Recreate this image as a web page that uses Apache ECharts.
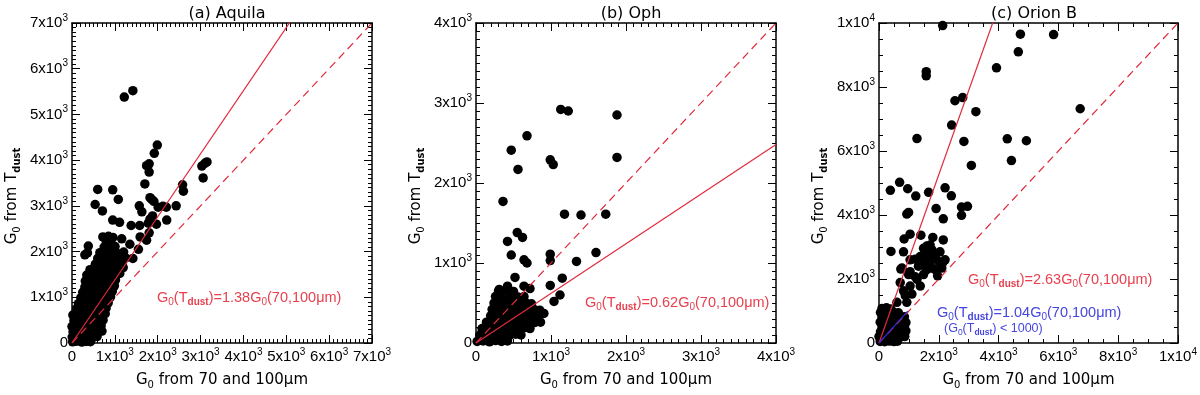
<!DOCTYPE html>
<html>
<head>
<meta charset="utf-8">
<script src="https://cdn.jsdelivr.net/npm/echarts@6/dist/echarts.min.js"></script>
<style>
  html, body { margin: 0; padding: 0; background: #fff; }
  #chartmain { width: 1200px; height: 395px; }
</style>
</head>
<body>
<div id="chartmain"></div>
<script>
// panel titles
var titles = ['(a) Aquila', '(b) Oph', '(c) Orion B'];
// axis ranges (same for x and y) and major tick step
var axisMax = [7000, 4000, 10000];
var axisStep = [1000, 1000, 2000];
var minorSplit = [10, 10, 4];
// fitted slopes G0(Tdust) = k * G0(70,100um)
var fitSlope = [1.38, 0.62, 2.63];
var fitLabel = ['1.38', '0.62', '2.63'];
// Orion B fit for G0(Tdust) < 1000
var blueSlope = 1.04;
var blueEnd = 960;

// G0 from 70/100um (x), G0 from Tdust (y)
var aquilaPts = [
  [1220,5380],[1420,5520],[1990,4330],[1920,4150],[1740,3880],[1800,3920],[1800,3740],[1700,3480],
  [1820,3180],[1860,3140],[1910,3100],[1570,3000],[1630,2870],[1880,2780],[1780,2620],[1970,2600],
  [2120,2990],[2200,2970],[2430,3000],[2210,2690],[2580,3460],[2600,3320],[3030,3870],[3100,3930],
  [3150,3960],[3060,3610],[600,3360],[540,3030],[710,2890],[950,3350],[1080,3140],[950,2690],
  [1110,2640],[1380,2570],[1580,2570],[1590,2320],[1740,2250],[1800,2410],[1350,2160],[1160,2280],
  [1420,1850],[1550,2050],[380,2120],[360,1970],[300,1930],[1160,1930],[1820,2710],[2010,2970],
  [15,25],[110,40],[230,20],[330,35],[430,30],
  [5,130],[95,115],[190,125],[290,110],[400,130],[495,120],[585,140],
  [25,245],[120,230],[215,250],[330,240],[425,225],[515,250],[615,235],[700,260],
  [0,360],[105,370],[200,350],[305,365],[395,345],[505,375],[600,355],[680,380],
  [45,485],[150,470],[255,490],[345,480],[455,470],[550,495],[640,475],[725,500],
  [20,610],[125,590],[215,605],[325,615],[415,595],[525,610],[615,590],[710,620],[775,640],
  [110,750],[195,720],[305,735],[400,710],[505,730],[595,715],[700,740],[795,760],
  [150,860],[255,845],[345,865],[455,840],[545,855],[655,870],[745,850],[845,880],
  [205,985],[300,970],[410,990],[495,965],[605,990],[700,975],[810,1000],[900,1010],
  [250,1110],[355,1095],[445,1115],[560,1100],[650,1120],[755,1095],[845,1115],[940,1130],
  [300,1225],[395,1215],[505,1235],[600,1210],[705,1230],[795,1220],[905,1240],[990,1250],
  [310,1355],[425,1340],[515,1360],[625,1345],[715,1365],[825,1350],[915,1370],[1015,1380],
  [345,1485],[455,1470],[545,1490],[655,1475],[745,1495],[855,1480],[945,1500],[1050,1505],[1115,1520],
  [420,1605],[525,1590],[615,1610],[725,1595],[815,1615],[925,1600],[1005,1620],[1115,1630],[1195,1650],
  [545,1725],[655,1710],[745,1730],[855,1715],[945,1735],[1055,1720],[1175,1760],
  [600,1850],[715,1840],[825,1860],[915,1845],[1005,1865],[1095,1850],[1250,1860],
  [650,1975],[785,1960],[895,1985],[1050,1965],[1205,1990],
  [750,2100],[860,2090],[1005,2110],
  [800,2220],[905,2230],
  [720,2320],[850,2335],[955,2310]
];

var ophPts = [
  [1130,2920],[1230,2900],[1880,2850],[680,2590],[470,2410],[990,2290],[1030,2230],[560,2170],
  [1880,2320],[360,1770],[1180,1610],[1400,1600],[1730,1610],[420,1270],[550,1380],[620,1320],
  [470,1100],[640,1040],[680,1000],[990,1110],[990,1030],[1340,1020],[1600,1130],[1150,810],
  [990,720],[1120,600],[1040,520],
  [15,20],[95,25],[180,15],[260,30],[340,20],[420,25],
  [50,100],[130,95],[210,110],[290,100],[370,105],[450,95],[530,110],[600,100],
  [80,180],[160,185],[240,175],[320,190],[400,180],[480,185],[560,175],[640,190],[720,180],
  [140,260],[220,255],[300,265],[380,255],[460,265],[540,260],[620,255],[700,265],[780,255],[860,260],
  [195,340],[280,335],[360,345],[440,340],[520,335],[600,345],[680,340],[760,335],[840,345],[905,370],
  [215,420],[300,425],[380,415],[460,420],[540,425],[620,415],[700,425],[775,420],[850,410],
  [240,500],[320,495],[400,505],[500,495],[580,500],[660,505],[740,490],
  [260,580],[340,575],[460,585],[560,575],[640,580],
  [300,650],[400,655],[500,645],
  [310,670],[420,710],[520,820],[640,710],[720,680]
];

var orionPts = [
  [2130,9920],[4730,9650],[5840,9640],[4660,9100],[3930,8600],[1580,8480],[1580,8350],[2800,7670],
  [2540,7570],[3240,7230],[2430,6810],[1270,6390],[2840,6300],[4290,6380],[4930,6320],[4430,5700],
  [3090,5550],[6730,7320],
  [930,4030],[990,4080],[1230,4590],[380,4770],[960,4820],[1660,4710],[2210,4850],[2420,4600],
  [1910,4200],[2150,3880],[2760,4250],[2960,4270],[2760,3990],[690,5020],
  [820,2850],[400,2860],[1040,3400],[840,3250],[1400,3370],[1800,3300],[2150,3220],
  [1040,2600],[1210,2620],[1380,2700],[1490,2960],[1600,3030],[1710,3060],[1770,2910],[1600,2750],
  [1710,2550],[1880,2650],[1990,2550],[2040,2850],[1490,2500],[1320,2400],[2210,2600],[2100,2340],
  [1600,2290],[1880,2290],[2130,2510],
  [930,1270],[1040,1780],[1270,1990],[1490,2140],[1770,2340],[1960,2100],[1100,1530],[820,1630],
  [710,1890],[990,2140],[770,2340],[1380,1780],[380,1020],[600,1270],[880,1480],[730,2310],
  [1040,2230],[1210,2070],[1490,2440],[1710,2600],[1880,2700],
  [40,50],[190,40],[350,60],[500,45],[620,55],
  [0,200],[150,210],[300,190],[450,205],[600,195],[750,210],[860,200],
  [50,350],[200,360],[350,340],[500,355],[650,345],[800,360],[900,380],
  [100,500],[250,510],[400,490],[550,505],[700,495],[850,515],
  [40,650],[200,660],[350,640],[500,655],[650,645],[800,660],[900,640],
  [100,800],[250,790],[400,810],[550,795],[700,805],[850,820],
  [50,950],[200,960],[350,940],[500,955],[650,945],
  [100,1080],[250,1100],[400,1060]
];

var allPts = [aquilaPts, ophPts, orionPts];

var FONT = 'Liberation Sans';
var FONT2 = 'DejaVu Sans';
var RED = '#e02a3c';
var RED_TXT = '#e8404f';
var BLUE = '#2a2ad8';
var BLUE_TXT = '#4545e0';

var gridLeft = [72, 476, 879];

function sciLabel(v) {
  if (v === 0) return '{m|0}';
  var e = Math.floor(Math.log10(v) + 1e-9);
  var m = Math.round(v / Math.pow(10, e));
  return '{m|' + m + 'x10}{e|' + e + '}';
}

var tickRich = {
  m: { fontFamily: FONT, fontSize: 15, color: '#000', lineHeight: 20 },
  e: { fontFamily: FONT, fontSize: 10, color: '#000', verticalAlign: 'top' }
};
var nameRich = {
  n: { fontFamily: FONT2, fontSize: 15, color: '#000', lineHeight: 20 },
  s: { fontFamily: FONT2, fontSize: 10, color: '#000', verticalAlign: 'bottom' },
  d: { fontFamily: FONT2, fontSize: 10, fontWeight: 'bold', color: '#000', verticalAlign: 'bottom' }
};

function makeAxis(i, dim, pos, withLabels) {
  var ax = {
    type: 'value',
    gridIndex: i,
    position: pos,
    min: 0,
    max: axisMax[i],
    interval: axisStep[i],
    axisLine: { show: true, onZero: false, lineStyle: { color: '#000', width: 1.5 } },
    axisTick: { show: true, inside: true, length: 8, lineStyle: { color: '#000', width: 1 } },
    minorTick: { show: true, splitNumber: minorSplit[i], length: 4, lineStyle: { color: '#000', width: 1 } },
    splitLine: { show: false },
    minorSplitLine: { show: false },
    axisLabel: { show: false }
  };
  if (withLabels) {
    ax.axisLabel = {
      show: true, margin: 4, hideOverlap: false, showMinLabel: true, showMaxLabel: true,
      formatter: sciLabel, rich: tickRich
    };
    ax.nameLocation = 'middle';
    if (dim === 'x') {
      ax.name = '{n|G}{s|0}{n| from 70 and 100μm}';
      ax.nameGap = 27;
      ax.nameTextStyle = { rich: nameRich };
    } else {
      ax.name = '{n|G}{s|0}{n| from T}{d|dust}';
      ax.nameGap = 50;
      // push the rotated name a little below the grid centre, as in the original
      ax.nameTextStyle = { rich: nameRich, padding: [0, 26, 0, 0] };
    }
  }
  return ax;
}

var grids = [], xAxes = [], yAxes = [], series = [], titleList = [];
for (var i = 0; i < 3; i++) {
  grids.push({ left: gridLeft[i], top: 23, width: 300, height: 327 });
  xAxes.push(makeAxis(i, 'x', 'bottom', true));
  xAxes.push(makeAxis(i, 'x', 'top', false));
  yAxes.push(makeAxis(i, 'y', 'left', true));
  yAxes.push(makeAxis(i, 'y', 'right', false));
  titleList.push({
    text: titles[i], left: gridLeft[i] + 150, top: 1, textAlign: 'center',
    textStyle: { fontFamily: FONT2, fontSize: 16, fontWeight: 'normal', color: '#000' }
  });
  series.push({
    type: 'scatter', xAxisIndex: 2 * i, yAxisIndex: 2 * i,
    data: allPts[i], symbol: 'circle', symbolSize: 9.5,
    itemStyle: { color: '#000', opacity: 1 }, z: 2
  });
  var mx = axisMax[i];
  series.push({
    type: 'line', xAxisIndex: 2 * i, yAxisIndex: 2 * i,
    data: [[0, 0], [mx, fitSlope[i] * mx]], symbol: 'none', clip: true,
    lineStyle: { color: RED, width: 1.2 }, z: 5
  });
  series.push({
    type: 'line', xAxisIndex: 2 * i, yAxisIndex: 2 * i,
    data: [[0, 0], [mx, mx]], symbol: 'none', clip: true,
    lineStyle: { color: RED, width: 1.2, type: [8, 5] }, z: 5
  });
}
series.push({
  type: 'line', xAxisIndex: 4, yAxisIndex: 4,
  data: [[0, 0], [blueEnd, blueSlope * blueEnd]], symbol: 'none',
  lineStyle: { color: BLUE, width: 1.2 }, z: 6
});

function fitText(k, col, size) {
  var sub = Math.round(size * 0.68);
  return {
    text: '{n|G}{s|0}{n|(T}{d|dust}{n|)=' + k + 'G}{s|0}{n|(70,100μm)}',
    rich: {
      n: { fontFamily: FONT, fontSize: size, fill: col, lineHeight: 20 },
      s: { fontFamily: FONT, fontSize: sub, fill: col, verticalAlign: 'bottom' },
      d: { fontFamily: FONT, fontSize: sub, fontWeight: 'bold', fill: col, verticalAlign: 'bottom' }
    }
  };
}

var annPos = [[157, 290], [585, 295], [968, 272]];
var graphics = [];
for (var j = 0; j < 3; j++) {
  graphics.push({ type: 'text', left: annPos[j][0], top: annPos[j][1], style: fitText(fitLabel[j], RED_TXT, 14.5) });
}
graphics.push({ type: 'text', left: 937, top: 305, style: fitText('1.04', BLUE_TXT, 14.5) });
graphics.push({
  type: 'text', left: 944, top: 322,
  style: {
    text: '{n|(G}{s|0}{n|(T}{d|dust}{n|) < 1000)}',
    rich: {
      n: { fontFamily: FONT, fontSize: 12.5, fill: BLUE_TXT, lineHeight: 17 },
      s: { fontFamily: FONT, fontSize: 8.5, fill: BLUE_TXT, verticalAlign: 'bottom' },
      d: { fontFamily: FONT, fontSize: 8.5, fontWeight: 'bold', fill: BLUE_TXT, verticalAlign: 'bottom' }
    }
  }
});

var option = {
  animation: false,
  backgroundColor: '#fff',
  title: titleList,
  grid: grids,
  xAxis: xAxes,
  yAxis: yAxes,
  series: series,
  graphic: graphics
};

var myChart = echarts.init(document.getElementById('chartmain'));
myChart.setOption(option);
</script>
</body>
</html>
